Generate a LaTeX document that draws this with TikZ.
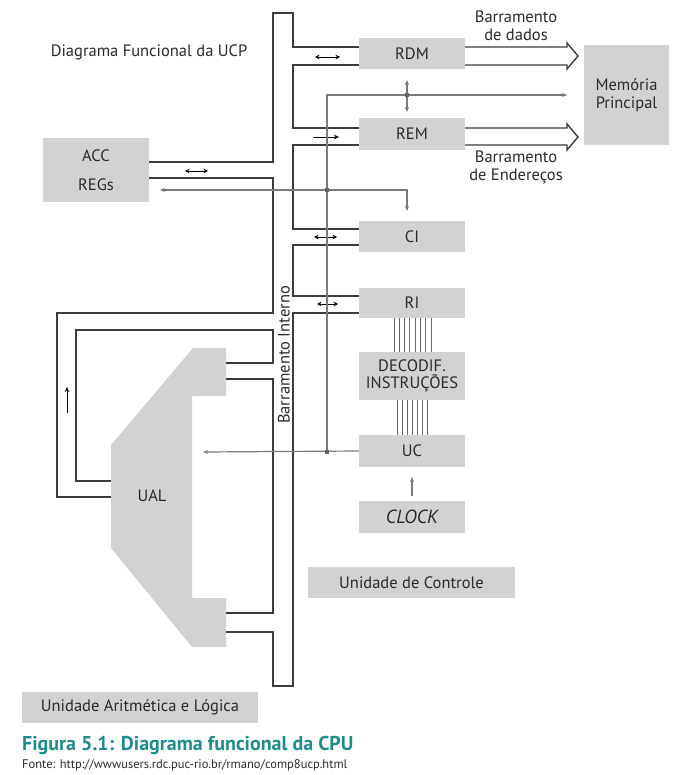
\documentclass[tikz,border=0pt]{standalone}
\usepackage{fontspec}
\setmainfont{PT Sans}
\usetikzlibrary{arrows.meta}
\definecolor{boxgray}{HTML}{D1D2D4}
\definecolor{busline}{HTML}{3C3C3C}
\definecolor{ctlline}{HTML}{7A7A7A}
\definecolor{txtgray}{HTML}{2A2A2A}
\definecolor{teal}{HTML}{1E8C8C}
\tikzset{
  box/.style={fill=boxgray,draw=none,inner sep=0pt,text=txtgray,font=\fontsize{16.5}{18}\selectfont,align=center},
  bus/.style={draw=busline,line width=1.6pt,line join=miter},
  ctl/.style={draw=ctlline,line width=1.2pt},
  dbl/.style={line width=0.8pt,black,{Stealth[length=4.5pt,width=4.5pt]}-{Stealth[length=4.5pt,width=4.5pt]}},
  sgl/.style={line width=0.8pt,black,-{Stealth[length=5pt,width=4.5pt]}},
  ctlarrow/.style={ctl,-{Stealth[length=5pt,width=4pt]}},
  junc/.style={fill=ctlline!80!black,draw=none,minimum size=4.5pt,inner sep=0pt,rectangle},
  lbl/.style={text=txtgray,font=\fontsize{16.5}{18}\selectfont,align=center,inner sep=0pt},
  deco/.style={draw=ctlline!85!black,line width=0.9pt}
}
\begin{document}
\begin{tikzpicture}[x=1pt,y=-1pt]
\useasboundingbox (0,0) rectangle (700,775);
% boxes
\node[box,minimum width=106pt,minimum height=31pt] (RDM) at (412,53.5) {RDM};
\node[box,minimum width=106pt,minimum height=32pt] (REM) at (412,134) {REM};
\node[box,minimum width=106pt,minimum height=31pt] (CI) at (412,236.5) {CI};
\node[box,minimum width=106pt,minimum height=30pt] (RI) at (412,303) {RI};
\node[box,minimum width=106pt,minimum height=48pt] (DEC) at (412,376) {DECODIF.\\[-1pt]INSTRUÇÕES};
\node[box,minimum width=106pt,minimum height=32pt] (UC) at (412,451) {UC};
\node[box,minimum width=106pt,minimum height=32pt,font=\fontsize{19}{21}\selectfont\itshape] (CLK) at (412,517) {CLOCK};
\node[box,minimum width=85pt,minimum height=100pt] (MEM) at (626.5,95) {Memória\\Principal};
\node[box,minimum width=106pt,minimum height=64pt] (ACC) at (96,170) {ACC\\[11pt]REGs};
\node[box,minimum width=207pt,minimum height=31pt] (UCTRL) at (411.5,582.5) {Unidade de Controle};
\node[box,minimum width=236pt,minimum height=31pt] (UALL) at (140,707.5) {Unidade Aritmética e Lógica};
% UAL shape
\fill[boxgray] (193,348) -- (226,348) -- (226,396) -- (192,396) -- (192,598) -- (226,598) -- (226,647) -- (192,647) -- (111,548) -- (111,445) -- cycle;
\node[lbl] (UAL) at (152,496) {UAL};
% labels
\node[lbl] (title) at (149,52) {Diagrama Funcional da UCP};
\node[lbl] (bd) at (516,26) {Barramento\\de dados};
\node[lbl] (be) at (516,167) {Barramento\\de Endereços};
\node[lbl,rotate=90] (bi) at (284,355) {Barramento Interno};
% internal bus (double-line outline)
\draw[bus] (149,162) -- (273,162) -- (273,13) -- (293,13) -- (293,47) -- (359,47);
\draw[bus] (359,65) -- (293,65) -- (293,128) -- (359,128);
\draw[bus] (359,145) -- (293,145) -- (293,229) -- (359,229);
\draw[bus] (359,245) -- (293,245) -- (293,296) -- (359,296);
\draw[bus] (359,313) -- (293,313) -- (293,686) -- (273,686) -- (273,632) -- (226,632);
\draw[bus] (226,613) -- (273,613) -- (273,379) -- (226,379);
\draw[bus] (226,363) -- (273,363) -- (273,330) -- (76,330) -- (76,481) -- (111,481);
\draw[bus] (111,497) -- (57,497) -- (57,313) -- (273,313) -- (273,178) -- (149,178);
% memory buses (hollow arrows)
\draw[bus,line width=1.4pt] (465,47) -- (567,47) -- (567,43) -- (578,56) -- (567,69) -- (567,65) -- (465,65);
\draw[bus,line width=1.4pt] (465,128) -- (567,128) -- (567,124) -- (578,137) -- (567,150) -- (567,145) -- (465,145);
% small direction arrows
\draw[dbl] (315,57) -- (340,57);
\draw[dbl] (185,171) -- (208,171);
\draw[sgl] (313,137) -- (339,137);
\draw[dbl] (314,237) -- (337,237);
\draw[dbl] (317,304) -- (338,304);
\draw[sgl] (67,413) -- (67,387);
% control lines
\draw[ctlarrow] (327,452) -- (327,95) -- (567,95);
\draw[ctl,{Stealth[length=5pt,width=4pt]}-{Stealth[length=5pt,width=4pt]}] (160,190) -- (407,190) -- (407,211);
\draw[ctlarrow] (UC.west) -- (203,452);
\draw[ctl,{Stealth[length=5pt,width=4pt]}-{Stealth[length=5pt,width=4pt]}] (407,80) -- (407,112);
\node[junc] (j1) at (327,190) {};
\node[junc] (j2) at (327,452) {};
\node[junc] (j3) at (407,95) {};
\draw[ctlarrow] (CLK.north) ++(0,-5) -- (412,477);
% decoder lines
\foreach \i in {0,...,7} {\draw[deco] (394+\i*5.3,318) -- (394+\i*5.3,352);}
\foreach \i in {0,...,6} {\draw[deco] (397+\i*5,400) -- (397+\i*5,435);}
% caption
\node[anchor=west,inner sep=0pt,text=teal,font=\fontsize{20}{22}\selectfont\bfseries] (cap) at (22,745) {Figura 5.1: Diagrama funcional da CPU};
\node[anchor=west,inner sep=0pt,text=txtgray,font=\fontsize{12.5}{14}\selectfont] (src) at (22,765) {Fonte: http://wwwusers.rdc.puc-rio.br/rmano/comp8ucp.html};
\end{tikzpicture}
\end{document}
